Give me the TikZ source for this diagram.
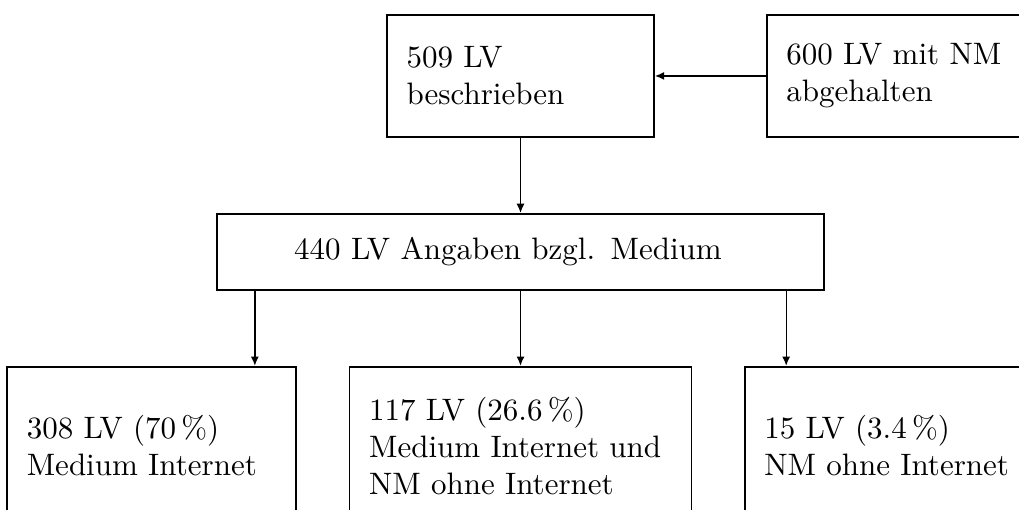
\documentclass[tikz,border=0pt]{standalone}
\usepackage{tikz}
\usetikzlibrary{arrows.meta,positioning,calc}
\tikzset{
  lvbox/.style={draw, line width=0.6pt, align=left, inner xsep=6.3pt, inner ysep=3pt},
  topbox/.style={lvbox, text width=73.5pt, minimum height=39.4pt},
  midbox/.style={lvbox, inner xsep=24.9pt, text width=146pt, minimum height=24.5pt},
  lowbox/.style={lvbox, minimum height=51pt},
  arr/.style={-{Latex[length=3pt,width=2.6pt]}, line width=0.45pt}
}

\begin{document}
\begin{tikzpicture}[node distance=24.2pt and 35.8pt]
  \useasboundingbox (0,0) rectangle (328.7pt,-164.2pt);
  \node[topbox] (besch) at (167.9pt,-24.5pt) {509 LV\\beschrieben};
  \node[topbox, right=of besch] (abgeh) {600 LV mit NM\\abgehalten};
  \node[midbox, below=of besch] (medium) {440 LV Angaben bzgl. Medium};
  \node[lowbox, text width=97.7pt, below=of medium] (beide)
    {117 LV (26.6\,\%)\\Medium Internet und\\NM ohne Internet};
  \node[lowbox, text width=80.6pt, left=16.6pt of beide] (inet) {308 LV (70\,\%)\\Medium Internet};
  \node[lowbox, text width=80.6pt, right=16.6pt of beide] (ohne) {15 LV (3.4\,\%)\\NM ohne Internet};
  % Pfeile
  \draw[arr] (abgeh) -- (besch);
  \draw[arr] (besch) -- (medium);
  \coordinate (links) at ($(medium.south west)+(12.5pt,0)$);
  \coordinate (rechts) at ($(medium.south east)+(-12.5pt,0)$);
  \draw[arr] (links) -- (links |- inet.north);
  \draw[arr] (medium) -- (beide);
  \draw[arr] (rechts) -- (rechts |- ohne.north);
\end{tikzpicture}
\end{document}
